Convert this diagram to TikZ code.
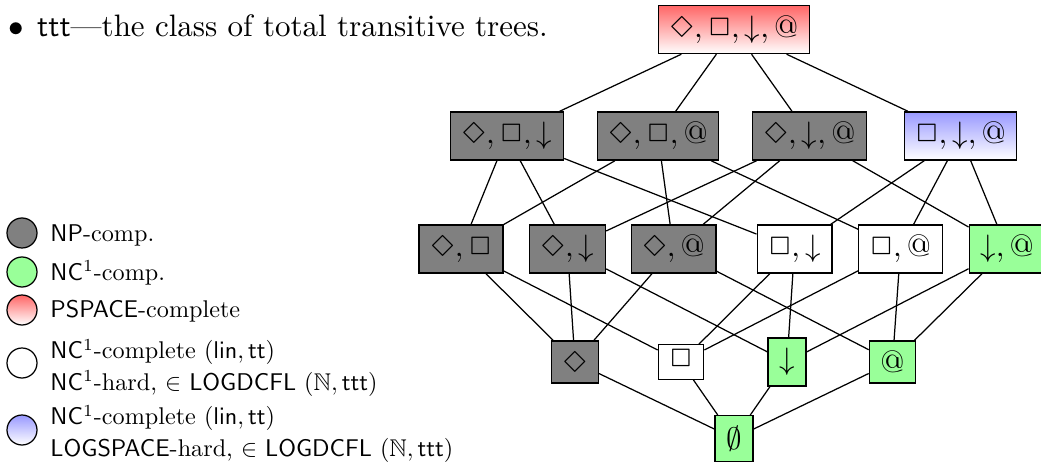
\documentclass[tikz,border=0pt]{standalone}
\usepackage{latexsym}
\usepackage{amsfonts}
\newcommand{\Dm}{\Diamond\vphantom{@}}
\begin{document}
\begin{tikzpicture}[x=0.3226pt,y=-0.3226pt,
  lat/.style={draw,inner xsep=3.6pt,inner ysep=3.3333pt,font=\normalsize},
  npc/.style={lat,fill=gray},
  ncc/.style={lat,fill=green!40},
  psc/.style={lat,top color=red!60,bottom color=white},
  whc/.style={lat,fill=white},
  lgc/.style={lat,top color=blue!40,bottom color=white},
  legdot/.style={circle,draw,inner sep=0pt,minimum size=9.68pt},
  legtext/.style={anchor=west,inner sep=0pt,scale=0.78,transform shape,
    font={\fontsize{10}{13.1}\selectfont},align=left}]
\useasboundingbox (0,0) rectangle (1041,467);

% heading text
\node[anchor=base west,inner sep=0pt] (head) at (8,37)
  {$\bullet$\hspace{4.2pt}\textsf{ttt}---the class of total transitive trees.};

% lattice nodes
\node[psc] (top) at (734,29.5) {$\Dm,\Box,\downarrow,@$};

\node[npc] (a1) at (507,136) {$\Dm,\Box,\downarrow$};
\node[npc] (a2) at (658,136) {$\Dm,\Box,@$};
\node[npc] (a3) at (809.5,136) {$\Dm,\downarrow,@$};
\node[lgc] (a4) at (960.5,136) {$\Box,\downarrow,@$};

\node[npc] (b1) at (461,249) {$\Dm,\Box$};
\node[npc] (b2) at (567.5,249) {$\Dm,\downarrow$};
\node[npc] (b3) at (673.5,249) {$\Dm,@$};
\node[whc] (b4) at (794.5,249) {$\Box,\downarrow$};
\node[whc] (b5) at (900.5,249) {$\Box,@$};
\node[ncc] (b6) at (1007,249) {$\downarrow,@$};

\node[npc] (c1) at (575,362) {$\Dm$};
\node[whc] (c2) at (681,362) {$\Box$};
\node[ncc] (c3) at (787,362) {$\downarrow$};
\node[ncc] (c4) at (892.5,362) {$@$};

\node[ncc] (e) at (734,438.5) {$\emptyset$};

% edges
\foreach \u in {a1,a2,a3,a4} \draw (top) -- (\u);
\draw (a1) -- (b1); \draw (a1) -- (b2); \draw (a1) -- (b4);
\draw (a2) -- (b1); \draw (a2) -- (b3); \draw (a2) -- (b5);
\draw (a3) -- (b2); \draw (a3) -- (b3); \draw (a3) -- (b6);
\draw (a4) -- (b4); \draw (a4) -- (b5); \draw (a4) -- (b6);
\draw (b1) -- (c1); \draw (b1) -- (c2);
\draw (b2) -- (c1); \draw (b2) -- (c3);
\draw (b3) -- (c1); \draw (b3) -- (c4);
\draw (b4) -- (c2); \draw (b4) -- (c3);
\draw (b5) -- (c2); \draw (b5) -- (c4);
\draw (b6) -- (c3); \draw (b6) -- (c4);
\foreach \u in {c1,c2,c3,c4} \draw (\u) -- (e);

% legend
\node[legdot,fill=gray] (l1) at (22,233) {};
\node[legtext] (t1) at (50,235) {\textsf{NP}-comp.};
\node[legdot,fill=green!40] (l2) at (22,272) {};
\node[legtext] (t2) at (50,273) {\textsf{NC}$^1$-comp.};
\node[legdot,top color=red!60,bottom color=white] (l3) at (22,310) {};
\node[legtext] (t3) at (50,311) {\textsf{PSPACE}-complete};
\node[legdot,fill=white] (l4) at (22,363) {};
\node[legtext] (t4) at (50,368) {\textsf{NC}$^1$-complete ($\mathsf{lin},\mathsf{tt}$)\\
  \textsf{NC}$^1$-hard, $\in$ \textsf{LOGDCFL} ($\mathbb{N},\mathsf{ttt}$)};
\node[legdot,top color=blue!40,bottom color=white] (l5) at (22,430) {};
\node[legtext] (t5) at (50,434) {\textsf{NC}$^1$-complete ($\mathsf{lin},\mathsf{tt}$)\\
  \textsf{LOGSPACE}-hard, $\in$ \textsf{LOGDCFL} ($\mathbb{N},\mathsf{ttt}$)};
\end{tikzpicture}
\end{document}
